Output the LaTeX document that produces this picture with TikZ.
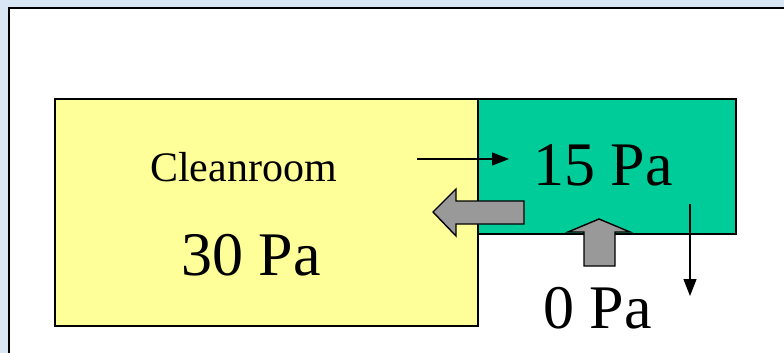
\documentclass[tikz,border=0pt]{standalone}
\usepackage{fontspec}
\setmainfont{Liberation Serif}
\usetikzlibrary{arrows.meta}
\definecolor{slideblue}{HTML}{D9E6F3}
\definecolor{roomyellow}{HTML}{FFFF99}
\definecolor{airlockgreen}{HTML}{00CC99}
\definecolor{flowgray}{HTML}{999999}
\tikzset{
  room/.style={draw=black, line width=1.6pt},
  flowarrow/.style={draw=black, line width=1.4pt, fill=flowgray, line join=miter},
  leak/.style={draw=black, line width=1.3pt, -{Triangle[length=17pt,width=13pt]}},
  label/.style={inner sep=0pt, anchor=base west, text=black}
}
\begin{document}
\begin{tikzpicture}[x=1pt, y=-1pt]
  \useasboundingbox (0,0) rectangle (784,353);
  % slide background and white panel
  \fill[slideblue] (0,0) rectangle (784,353);
  \fill[white] (9,8) rectangle (790,360);
  \draw[black, line width=1.8pt] (9,360) -- (9,8) -- (790,8);

  % rooms
  \draw[room, fill=roomyellow] (55,99) rectangle (478,326);
  \draw[room, fill=airlockgreen] (478,99) rectangle (736,234);

  % texts
  \node[label, font=\fontsize{42}{48}\selectfont] (clean) at (150,181) {Cleanroom};
  \node[label, font=\fontsize{62}{70}\selectfont] (p30) at (181,275) {30 Pa};
  \node[label, font=\fontsize{62}{70}\selectfont] (p15) at (533,185) {15 Pa};
  \node[label, font=\fontsize{62}{70}\selectfont] (p0) at (543,328) {0 Pa};

  % thin leakage arrows
  \coordinate (inS) at (417,159);
  \coordinate (inE) at (509,159);
  \draw[leak] (inS) -- (inE);
  \coordinate (outS) at (690,204);
  \coordinate (outE) at (690,296);
  \draw[leak] (outS) -- (outE);

  % block arrows for main air flow
  \draw[flowarrow] (433,212) -- (456,189) -- (456,201) -- (524,201)
        -- (524,224) -- (456,224) -- (456,236) -- cycle;
  \draw[flowarrow] (599,219) -- (630,232) -- (615,232) -- (615,266)
        -- (584,266) -- (584,232) -- (568,232) -- cycle;
\end{tikzpicture}
\end{document}
